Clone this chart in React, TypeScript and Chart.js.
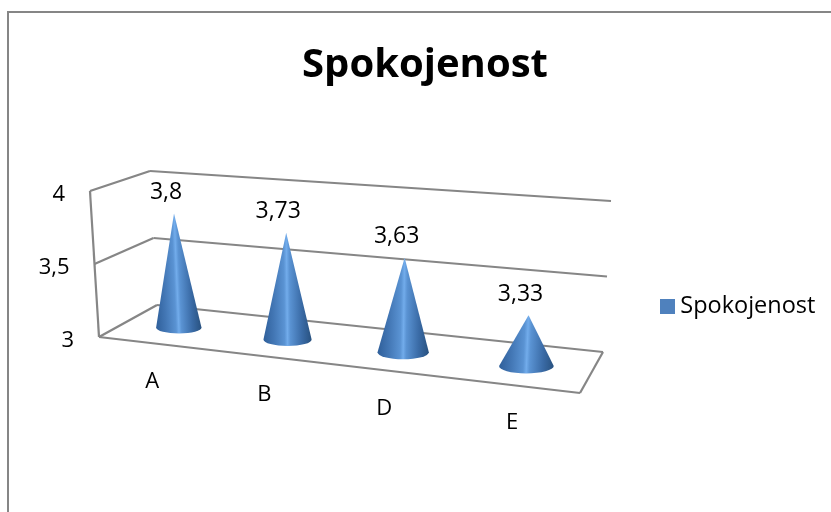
import React, { useEffect, useRef } from "react";
import { Chart, registerables } from "chart.js";

Chart.register(...registerables);

const categories = ["A", "B", "D", "E"];
const seriesName = "Spokojenost";
const values = [3.8, 3.73, 3.63, 3.33];
const FONT = '"Open Sans", sans-serif';
const LINE = "#868686";
const CONE_DEPTH = 0.46;

type P = [number, number];
const floorCorners: P[] = [[99, 337], [580, 393], [603, 352], [157, 305]];
const ceilCorners: P[] = [[90, 191], [589, 233], [611, 201], [150, 171]];

function homography(q: P[]) {
  const [[x0, y0], [x1, y1], [x2, y2], [x3, y3]] = q;
  const dx1 = x1 - x2, dx2 = x3 - x2, sx = x0 - x1 + x2 - x3;
  const dy1 = y1 - y2, dy2 = y3 - y2, sy = y0 - y1 + y2 - y3;
  const den = dx1 * dy2 - dx2 * dy1;
  const g = (sx * dy2 - dx2 * sy) / den;
  const h = (dx1 * sy - sx * dy1) / den;
  const a = x1 - x0 + g * x1, b = x3 - x0 + h * x3, c = x0;
  const d = y1 - y0 + g * y1, e = y3 - y0 + h * y3, f = y0;
  return (u: number, w: number): P => {
    const k = g * u + h * w + 1;
    return [(a * u + b * w + c) / k, (d * u + e * w + f) / k];
  };
}
const floorH = homography(floorCorners);
const upAt = (u: number, w: number): P => {
  const d = (i: number, c: number) => ceilCorners[i][c] - floorCorners[i][c];
  const bil = (c: number) =>
    (1 - w) * ((1 - u) * d(0, c) + u * d(1, c)) + w * ((1 - u) * d(3, c) + u * d(2, c));
  return [bil(0), bil(1)];
};
// u: along categories, v: along value axis, w: depth (0 front, 1 back)
function project(u: number, v: number, w: number): P {
  const p0 = floorH(u, w), up = upAt(u, w);
  return [p0[0] + up[0] * v, p0[1] + up[1] * v];
}
const uOf = (chart: any, px: number) => (px - chart.chartArea.left) / chart.chartArea.width;
const vOf = (chart: any, val: number) => {
  const y = chart.scales.y;
  return (y.bottom - y.getPixelForValue(val)) / (y.bottom - y.top);
};
function seg(ctx: CanvasRenderingContext2D, a: P, b: P) {
  ctx.beginPath();
  ctx.moveTo(a[0], a[1]);
  ctx.lineTo(b[0], b[1]);
  ctx.stroke();
}

const cone3d = {
  id: "cone3d",
  afterLayout(chart: any) {
    const lg = chart.legend;
    const dy = 306 - (lg.top + lg.bottom) / 2;
    lg.top += dy;
    lg.bottom += dy;
    const dx = 663 + 3.5 - (lg.left + 8);
    lg.left += dx;
    lg.right += dx;
    const t = chart.titleBlock;
    t.left += 9;
    t.right += 9;
  },
  beforeDraw(chart: any) {
    const { ctx, scales } = chart;
    ctx.save();
    ctx.strokeStyle = LINE;
    ctx.lineWidth = 2;
    ctx.beginPath();
    ctx.moveTo(8, 512);
    ctx.lineTo(8, 12);
    ctx.lineTo(831, 12);
    ctx.stroke();
    ctx.lineWidth = 2.2;
    scales.y.ticks.forEach((t: any) => {
      const v = vOf(chart, t.value);
      seg(ctx, project(0, v, 0), project(0, v, 1));
      seg(ctx, project(0, v, 1), project(1, v, 1));
    });
    seg(ctx, project(0, 0, 0), project(0, 1, 0));
    seg(ctx, project(0, 0, 0), project(1, 0, 0));
    seg(ctx, project(1, 0, 0), project(1, 0, 1));
    ctx.restore();
    scales.x.getLabelItems().forEach((item: any, i: number) => {
      const u = uOf(chart, scales.x.getPixelForTick(i));
      const p = project(u, 0, 0);
      item.textOffset = 0;
      item.options.textAlign = "center";
      item.options.textBaseline = "middle";
      item.options.translation = [p[0] - 0.5, p[1] + 38];
    });
    scales.y.getLabelItems().forEach((item: any, i: number) => {
      const v = vOf(chart, scales.y.ticks[i].value);
      const p = project(0, v, 0);
      item.textOffset = 0;
      item.options.textAlign = "right";
      item.options.textBaseline = "middle";
      item.options.translation = [p[0] - 25, p[1] + 4];
    });
  },
  beforeDatasetDraw(chart: any, args: any) {
    const { ctx } = chart;
    const meta = args.meta;
    const ds = chart.data.datasets[args.index];
    meta.data.forEach((el: any, i: number) => {
      const u = uOf(chart, el.x);
      const hw = el.width / 2 / chart.chartArea.width;
      const base = project(u, 0, CONE_DEPTH);
      const tip = project(u, vOf(chart, ds.data[i]), CONE_DEPTH);
      const l = project(u - hw, 0, CONE_DEPTH);
      const r = project(u + hw, 0, CONE_DEPTH);
      const a = (r[0] - l[0]) / 2;
      const b = a * 0.27;
      const s = (tip[0] - base[0]) / (tip[1] - base[1]);
      ctx.save();
      // shear so the highlight runs from the base centre to the apex
      ctx.transform(1, 0, s, 1, -s * base[1], 0);
      const g = ctx.createLinearGradient(base[0] - a, 0, base[0] + a, 0);
      g.addColorStop(0, "#2f5f9a");
      g.addColorStop(0.22, "#4377b5");
      g.addColorStop(0.44, "#5a93d3");
      g.addColorStop(0.5, "#72aceb");
      g.addColorStop(0.56, "#5a93d3");
      g.addColorStop(0.8, "#3a6ba6");
      g.addColorStop(1, "#28517f");
      ctx.fillStyle = g;
      ctx.beginPath();
      ctx.moveTo(base[0] - a, base[1]);
      ctx.lineTo(base[0], tip[1]);
      ctx.lineTo(base[0] + a, base[1]);
      ctx.ellipse(base[0], base[1], a, b, 0, 0, Math.PI);
      ctx.closePath();
      ctx.fill();
      ctx.restore();
      ctx.save();
      ctx.fillStyle = "#000";
      ctx.font = `23px ${FONT}`;
      ctx.textAlign = "center";
      ctx.textBaseline = "middle";
      ctx.fillText(String(ds.data[i]).replace(".", ","), tip[0] - 8, tip[1] - 21);
      ctx.restore();
    });
    return false;
  },
};

export default function App() {
  const ref = useRef<HTMLCanvasElement>(null);
  useEffect(() => {
    const swatch = document.createElement("canvas");
    swatch.width = 15;
    swatch.height = 15;
    const sc = swatch.getContext("2d")!;
    sc.fillStyle = "#4f81bd";
    sc.fillRect(0, 0, 15, 15);
    const chart = new Chart(ref.current!, {
      type: "bar",
      plugins: [cone3d],
      data: {
        labels: categories,
        datasets: [{ label: seriesName, data: values, backgroundColor: "#4f81bd", barPercentage: 0.86, categoryPercentage: 0.5 }],
      },
      options: {
        responsive: false,
        animation: false,
        devicePixelRatio: 1,
        layout: { padding: { left: 17, right: 16, top: 0, bottom: 0 } },
        plugins: {
          tooltip: { enabled: false },
          title: {
            display: true,
            text: seriesName,
            color: "#000",
            font: { family: FONT, size: 40, weight: "bold" },
            padding: { top: 42, bottom: 20 },
          },
          legend: {
            position: "right",
            labels: {
              usePointStyle: true,
              pointStyle: swatch,
              pointStyleWidth: 2,
              boxHeight: 15,
              padding: 8,
              color: "#000",
              font: { family: FONT, size: 23.5 },
            },
          },
        },
        scales: {
          x: {
            grid: { display: false },
            border: { display: false },
            ticks: { mirror: true, color: "#000", font: { family: FONT, size: 22 } },
          },
          y: {
            min: 3,
            max: 4,
            grid: { display: false },
            border: { display: false },
            ticks: {
              mirror: true,
              stepSize: 0.5,
              color: "#000",
              font: { family: FONT, size: 22 },
              callback: (v: any) => String(v).replace(".", ","),
            },
          },
        },
      },
    } as any);
    return () => chart.destroy();
  }, []);
  return (
    <div style={{ position: "absolute", left: 0, top: 0, width: 831, height: 512, background: "#fff" }}>
      <canvas ref={ref} width={831} height={512} style={{ display: "block" }} />
    </div>
  );
}
